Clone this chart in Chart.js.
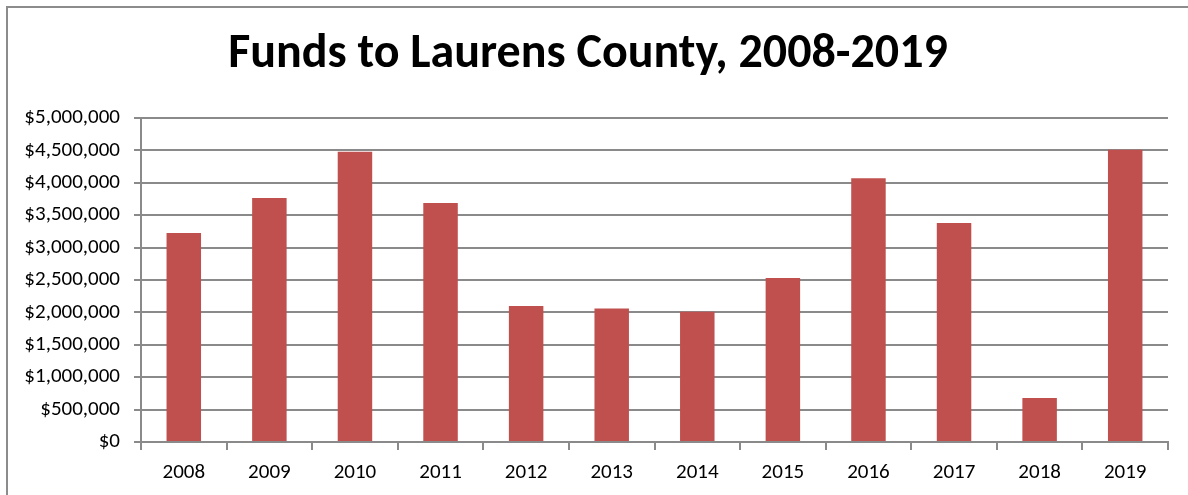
<!DOCTYPE html>
<html>
<head>
<meta charset="utf-8">
<script src="https://cdn.jsdelivr.net/npm/chart.js@4"></script>
<style>
  html, body { margin: 0; padding: 0; background: #fff; overflow: hidden; }
  #frame { position: absolute; left: 6px; top: 6px; width: 1200px; height: 500px;
           border-left: 2px solid #8c8c8c; border-top: 2px solid #8c8c8c; box-sizing: border-box; }
  #wrap { position: absolute; left: 8px; top: 8px; width: 1188px; height: 490px; }
</style>
</head>
<body>
<div id="frame"></div>
<div id="wrap"><canvas id="c" width="1188" height="490"></canvas></div>
<script>
const categories = ["2008","2009","2010","2011","2012","2013","2014","2015","2016","2017","2018","2019"];
const funds = [3225000, 3765000, 4480000, 3690000, 2100000, 2060000, 2010000, 2530000, 4070000, 3380000, 680000, 4510000];
const yTicksMax = 5000000;
const yTickStep = 500000;
const chartTitle = "Funds to Laurens County, 2008-2019";

const FONT = "Carlito, 'Liberation Sans', Arial, sans-serif";
const gridColor = '#8a8a8a';

new Chart(document.getElementById('c'), {
  type: 'bar',
  data: {
    labels: categories,
    datasets: [{
      data: funds,
      backgroundColor: '#C0504D',
      borderWidth: 0,
      barPercentage: 0.403,
      categoryPercentage: 1.0
    }]
  },
  options: {
    responsive: false,
    animation: false,
    devicePixelRatio: 1,
    layout: { padding: { left: 0, right: 28, top: 0, bottom: 0 } },
    plugins: {
      legend: { display: false },
      tooltip: { enabled: false },
      title: {
        display: true,
        text: chartTitle,
        color: '#000',
        font: { family: FONT, size: 48, weight: 'bold', lineHeight: 1.2 },
        padding: { top: 18, bottom: 34.4 }
      }
    },
    scales: {
      x: {
        offset: true,
        grid: { offset: true, drawOnChartArea: false, drawTicks: true, tickLength: 8, color: gridColor, lineWidth: 2 },
        border: { display: true, color: gridColor, width: 2 },
        ticks: { color: '#000', font: { family: FONT, size: 21 }, padding: 10, maxRotation: 0 },
        afterFit: (s) => { s.height = 56; }
      },
      y: {
        min: 0,
        max: yTicksMax,
        grid: { color: gridColor, lineWidth: 2, drawTicks: true, tickLength: 7 },
        border: { display: true, color: gridColor, width: 2 },
        ticks: {
          stepSize: yTickStep,
          color: '#000',
          font: { family: FONT, size: 21 },
          padding: 14,
          callback: (v) => '$' + Number(v).toLocaleString('en-US')
        },
        afterFit: (s) => { s.width = 133; }
      }
    }
  }
});
</script>
</body>
</html>
